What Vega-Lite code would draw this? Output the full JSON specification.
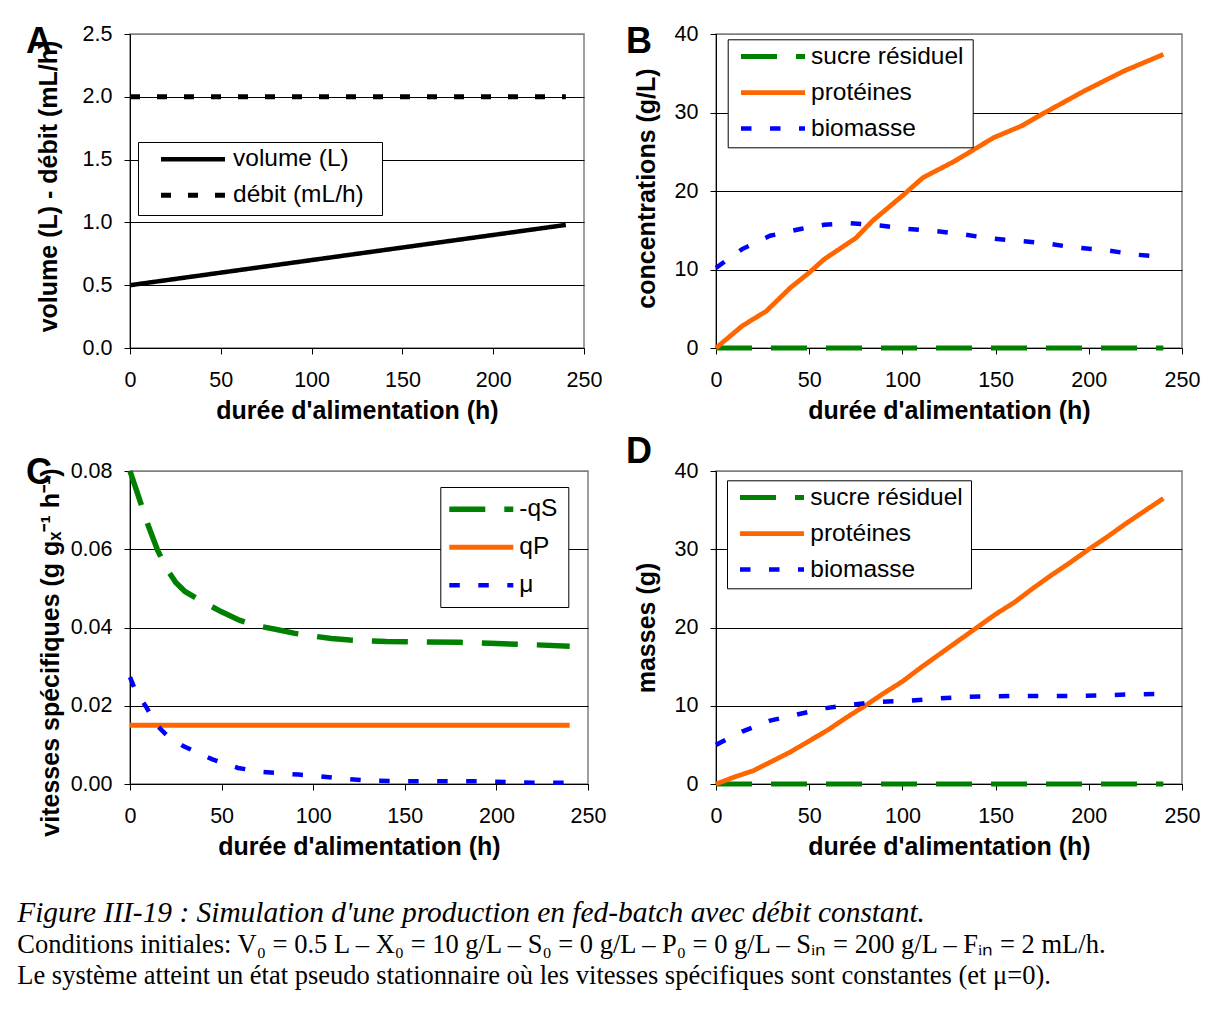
{
  "$schema": "https://vega.github.io/schema/vega-lite/v6.json",
  "background": "#ffffff",
  "padding": {"left": 17, "top": 22, "right": 5, "bottom": 5},
  "autosize": {"type": "pad"},
  "title": {
    "text": "Figure III-19 : Simulation d'une production en fed-batch avec débit constant.",
    "subtitle": ["Conditions initiales: V₀ = 0.5 L – X₀ = 10 g/L – S₀ = 0 g/L – P₀ = 0 g/L – Sᵢₙ = 200 g/L – Fᵢₙ = 2 mL/h.", "Le système atteint un état pseudo stationnaire où les vitesses spécifiques sont constantes (et μ=0)."],
    "orient": "bottom", "anchor": "start", "frame": "bounds", "offset": 39, "dx": -8,
    "font": "Liberation Serif", "fontSize": 29.4, "fontStyle": "italic", "fontWeight": "normal", "color": "#000000",
    "subtitleFont": "Liberation Serif", "subtitleFontSize": 26.5, "subtitleFontStyle": "normal", "subtitleFontWeight": "normal", "subtitleColor": "#000000", "subtitleLineHeight": 31, "subtitlePadding": 3.6
  },
  "config": {
    "font": "Liberation Sans",
    "view": {"stroke": "#808080", "strokeWidth": 1.5},
    "axis": {"labelFont": "Liberation Sans", "labelFontSize": 21.5, "labelColor": "#000000", "titleFont": "Liberation Sans", "titleFontSize": 25, "titleFontWeight": "bold", "titleColor": "#000000", "tickColor": "#000000", "tickSize": 6, "tickWidth": 1, "domainColor": "#000000", "domainWidth": 1, "grid": false, "labelOverlap": false, "labelFlush": false},
    "axisX": {"labelPadding": 15.7, "titlePadding": 7.5},
    "axisY": {"labelPadding": 12, "grid": true, "gridWidth": 1, "titleBaseline": "middle"},
    "legend": {"symbolSize": 1, "symbolStrokeWidth": 5, "labelFont": "Liberation Sans", "labelFontSize": 24.5, "labelColor": "#000000", "labelLimit": 400, "fillColor": "#ffffff", "strokeColor": "#000000", "orient": "none"}
  },
  "columns": 2,
  "bounds": "flush",
  "align": "each",
  "spacing": {"row": 123, "column": 128},
  "resolve": {"scale": {"x": "independent", "y": "independent", "color": "independent", "strokeDash": "independent", "strokeWidth": "independent"}},
  "concat": [
    {
      "width": 454, "height": 314,
      "title": {"text": "A", "anchor": "start", "frame": "group", "dx": -104, "offset": -38.3, "font": "Liberation Sans", "fontSize": 36, "fontWeight": "bold", "color": "#000000"},
      "data": {"values": [
        {"t": 0, "v": 0.5, "s": "volume (L)"}, {"t": 20, "v": 0.54, "s": "volume (L)"}, {"t": 40, "v": 0.58, "s": "volume (L)"}, {"t": 60, "v": 0.62, "s": "volume (L)"}, {"t": 80, "v": 0.66, "s": "volume (L)"}, {"t": 100, "v": 0.7, "s": "volume (L)"}, {"t": 120, "v": 0.74, "s": "volume (L)"}, {"t": 140, "v": 0.78, "s": "volume (L)"}, {"t": 160, "v": 0.82, "s": "volume (L)"}, {"t": 180, "v": 0.86, "s": "volume (L)"}, {"t": 200, "v": 0.9, "s": "volume (L)"}, {"t": 220, "v": 0.94, "s": "volume (L)"}, {"t": 240, "v": 0.98, "s": "volume (L)"},
        {"t": 0, "v": 2.0, "s": "débit (mL/h)"}, {"t": 240, "v": 2.0, "s": "débit (mL/h)"}
      ]},
      "mark": {"type": "line"},
      "encoding": {
        "x": {"field": "t", "type": "quantitative", "scale": {"domain": [0, 250]}, "axis": {"values": [0, 50, 100, 150, 200, 250], "title": "durée d'alimentation (h)"}},
        "y": {"field": "v", "type": "quantitative", "scale": {"domain": [0, 2.5]}, "axis": {"values": [0, 0.5, 1, 1.5, 2, 2.5], "format": ".1f", "title": "volume (L) - débit (mL/h)", "titleX": -81.5, "titleY": 152, "gridColor": {"condition": {"test": "datum.index == 1", "value": "#808080"}, "value": "#000000"}}},
        "color": {"field": "s", "type": "nominal", "scale": {"domain": ["volume (L)", "débit (mL/h)"], "range": ["#000000", "#000000"]}, "legend": {"title": null, "orient": "none", "legendX": 8, "legendY": 108, "padding": 5, "rowPadding": 9, "symbolOffset": 37.75, "labelOffset": 27.75, "symbolType": "M348,9M-64,0H64"}},
        "strokeDash": {"field": "s", "type": "nominal", "scale": {"domain": ["volume (L)", "débit (mL/h)"], "range": [[1, 0], [10, 17]]}, "legend": {"title": null, "orient": "none", "legendX": 8, "legendY": 108, "padding": 5, "rowPadding": 9, "symbolOffset": 37.75, "labelOffset": 27.75, "symbolType": "M348,9M-64,0H64"}},
        "strokeWidth": {"field": "s", "type": "nominal", "scale": {"domain": ["volume (L)", "débit (mL/h)"], "range": [4.5, 5]}, "legend": null}
      }
    },
    {
      "width": 466, "height": 314,
      "title": {"text": "B", "anchor": "start", "frame": "group", "dx": -90, "offset": -38.3, "font": "Liberation Sans", "fontSize": 36, "fontWeight": "bold", "color": "#000000"},
      "data": {"values": [
        {"t": 0, "v": 0, "s": "sucre résiduel"}, {"t": 240, "v": 0, "s": "sucre résiduel"},
        {"t": 0, "v": 0, "s": "protéines"}, {"t": 14, "v": 2.8, "s": "protéines"}, {"t": 27, "v": 4.7, "s": "protéines"}, {"t": 40, "v": 7.7, "s": "protéines"}, {"t": 50, "v": 9.6, "s": "protéines"}, {"t": 58, "v": 11.3, "s": "protéines"}, {"t": 75, "v": 14.0, "s": "protéines"}, {"t": 84, "v": 16.2, "s": "protéines"}, {"t": 101, "v": 19.6, "s": "protéines"}, {"t": 111, "v": 21.7, "s": "protéines"}, {"t": 128, "v": 23.8, "s": "protéines"}, {"t": 149, "v": 26.8, "s": "protéines"}, {"t": 164, "v": 28.3, "s": "protéines"}, {"t": 175, "v": 29.8, "s": "protéines"}, {"t": 198, "v": 32.8, "s": "protéines"}, {"t": 219, "v": 35.3, "s": "protéines"}, {"t": 240, "v": 37.4, "s": "protéines"},
        {"t": 0, "v": 10.2, "s": "biomasse"}, {"t": 14, "v": 12.6, "s": "biomasse"}, {"t": 29, "v": 14.3, "s": "biomasse"}, {"t": 46, "v": 15.2, "s": "biomasse"}, {"t": 58, "v": 15.7, "s": "biomasse"}, {"t": 72, "v": 15.9, "s": "biomasse"}, {"t": 88, "v": 15.6, "s": "biomasse"}, {"t": 101, "v": 15.2, "s": "biomasse"}, {"t": 118, "v": 14.9, "s": "biomasse"}, {"t": 129, "v": 14.6, "s": "biomasse"}, {"t": 146, "v": 14.0, "s": "biomasse"}, {"t": 159, "v": 13.7, "s": "biomasse"}, {"t": 175, "v": 13.4, "s": "biomasse"}, {"t": 192, "v": 12.8, "s": "biomasse"}, {"t": 208, "v": 12.5, "s": "biomasse"}, {"t": 225, "v": 11.9, "s": "biomasse"}, {"t": 240, "v": 11.6, "s": "biomasse"}
      ]},
      "mark": {"type": "line"},
      "encoding": {
        "x": {"field": "t", "type": "quantitative", "scale": {"domain": [0, 250]}, "axis": {"values": [0, 50, 100, 150, 200, 250], "title": "durée d'alimentation (h)"}},
        "y": {"field": "v", "type": "quantitative", "scale": {"domain": [0, 40]}, "axis": {"values": [0, 10, 20, 30, 40], "title": "concentrations (g/L)", "titleX": -70, "titleY": 154, "gridColor": {"condition": {"test": "datum.index == 1", "value": "#808080"}, "value": "#000000"}}},
        "color": {"field": "s", "type": "nominal", "scale": {"domain": ["sucre résiduel", "protéines", "biomasse"], "range": ["#008000", "#FF6600", "#0000FF"]}, "legend": {"title": null, "orient": "none", "legendX": 11.7, "legendY": 5.3, "padding": 5, "rowPadding": 8, "symbolOffset": 28.05, "labelOffset": 25.75, "symbolType": "M369.4,9M-64,0H64"}},
        "strokeDash": {"field": "s", "type": "nominal", "scale": {"domain": ["sucre résiduel", "protéines", "biomasse"], "range": [[36, 19], [1, 0], [10.5, 18.5]]}, "legend": {"title": null, "orient": "none", "legendX": 11.7, "legendY": 5.3, "padding": 5, "rowPadding": 8, "symbolOffset": 28.05, "labelOffset": 25.75, "symbolType": "M369.4,9M-64,0H64"}},
        "strokeWidth": {"field": "s", "type": "nominal", "scale": {"domain": ["sucre résiduel", "protéines", "biomasse"], "range": [5, 4.5, 6]}, "legend": null}
      }
    },
    {
      "width": 458, "height": 313,
      "title": {"text": "C", "anchor": "start", "frame": "group", "dx": -104, "offset": -31.8, "font": "Liberation Sans", "fontSize": 36, "fontWeight": "bold", "color": "#000000"},
      "data": {"values": [
        {"t": 0, "v": 0.080, "s": "-qS"}, {"t": 5, "v": 0.073, "s": "-qS"}, {"t": 10, "v": 0.066, "s": "-qS"}, {"t": 15, "v": 0.0598, "s": "-qS"}, {"t": 20, "v": 0.0550, "s": "-qS"}, {"t": 25, "v": 0.0515, "s": "-qS"}, {"t": 30, "v": 0.0492, "s": "-qS"}, {"t": 40, "v": 0.0465, "s": "-qS"}, {"t": 50, "v": 0.0440, "s": "-qS"}, {"t": 60, "v": 0.0418, "s": "-qS"}, {"t": 70, "v": 0.0404, "s": "-qS"}, {"t": 80, "v": 0.0395, "s": "-qS"}, {"t": 90, "v": 0.0385, "s": "-qS"}, {"t": 100, "v": 0.0378, "s": "-qS"}, {"t": 110, "v": 0.0372, "s": "-qS"}, {"t": 120, "v": 0.0368, "s": "-qS"}, {"t": 140, "v": 0.0364, "s": "-qS"}, {"t": 160, "v": 0.0363, "s": "-qS"}, {"t": 180, "v": 0.0362, "s": "-qS"}, {"t": 200, "v": 0.0359, "s": "-qS"}, {"t": 220, "v": 0.0356, "s": "-qS"}, {"t": 240, "v": 0.0352, "s": "-qS"},
        {"t": 0, "v": 0.015, "s": "qP"}, {"t": 240, "v": 0.015, "s": "qP"},
        {"t": 0, "v": 0.0273, "s": "μ"}, {"t": 3, "v": 0.0238, "s": "μ"}, {"t": 9, "v": 0.0196, "s": "μ"}, {"t": 14, "v": 0.0153, "s": "μ"}, {"t": 20, "v": 0.0125, "s": "μ"}, {"t": 29, "v": 0.0097, "s": "μ"}, {"t": 45, "v": 0.0063, "s": "μ"}, {"t": 59, "v": 0.0041, "s": "μ"}, {"t": 72, "v": 0.0031, "s": "μ"}, {"t": 92, "v": 0.0024, "s": "μ"}, {"t": 101, "v": 0.0021, "s": "μ"}, {"t": 118, "v": 0.0013, "s": "μ"}, {"t": 129, "v": 0.0009, "s": "μ"}, {"t": 147, "v": 0.0007, "s": "μ"}, {"t": 176, "v": 0.0007, "s": "μ"}, {"t": 192, "v": 0.0007, "s": "μ"}, {"t": 210, "v": 0.0004, "s": "μ"}, {"t": 227, "v": 0.0003, "s": "μ"}, {"t": 240, "v": 0.0003, "s": "μ"}
      ]},
      "mark": {"type": "line"},
      "encoding": {
        "x": {"field": "t", "type": "quantitative", "scale": {"domain": [0, 250]}, "axis": {"values": [0, 50, 100, 150, 200, 250], "title": "durée d'alimentation (h)"}},
        "y": {"field": "v", "type": "quantitative", "scale": {"domain": [0, 0.08]}, "axis": {"values": [0, 0.02, 0.04, 0.06, 0.08], "format": ".2f", "title": "vitesses spécifiques  (g gₓ⁻¹ h⁻¹)", "titleX": -80, "titleY": 181, "gridColor": {"condition": {"test": "datum.index == 1", "value": "#808080"}, "value": "#000000"}}},
        "color": {"field": "s", "type": "nominal", "scale": {"domain": ["-qS", "qP", "μ"], "range": ["#008000", "#FF6600", "#0000FF"]}, "legend": {"title": null, "orient": "none", "legendX": 310.3, "legendY": 16, "padding": 10, "rowPadding": 13, "symbolOffset": 18.75, "labelOffset": 25.75, "symbolType": "M-64,0H64"}},
        "strokeDash": {"field": "s", "type": "nominal", "scale": {"domain": ["-qS", "qP", "μ"], "range": [[36, 19], [1, 0], [10.5, 18.5]]}, "legend": {"title": null, "orient": "none", "legendX": 310.3, "legendY": 16, "padding": 10, "rowPadding": 13, "symbolOffset": 18.75, "labelOffset": 25.75, "symbolType": "M-64,0H64"}},
        "strokeWidth": {"field": "s", "type": "nominal", "scale": {"domain": ["-qS", "qP", "μ"], "range": [5.5, 4.5, 6]}, "legend": null}
      }
    },
    {
      "width": 466, "height": 313,
      "title": {"text": "D", "anchor": "start", "frame": "group", "dx": -90, "offset": -11.3, "font": "Liberation Sans", "fontSize": 36, "fontWeight": "bold", "color": "#000000"},
      "data": {"values": [
        {"t": 0, "v": 0, "s": "sucre résiduel"}, {"t": 240, "v": 0, "s": "sucre résiduel"},
        {"t": 0, "v": 0, "s": "protéines"}, {"t": 10, "v": 0.9, "s": "protéines"}, {"t": 20, "v": 1.7, "s": "protéines"}, {"t": 30, "v": 2.9, "s": "protéines"}, {"t": 40, "v": 4.1, "s": "protéines"}, {"t": 50, "v": 5.5, "s": "protéines"}, {"t": 60, "v": 6.9, "s": "protéines"}, {"t": 70, "v": 8.5, "s": "protéines"}, {"t": 80, "v": 10.0, "s": "protéines"}, {"t": 90, "v": 11.6, "s": "protéines"}, {"t": 100, "v": 13.1, "s": "protéines"}, {"t": 110, "v": 14.9, "s": "protéines"}, {"t": 120, "v": 16.6, "s": "protéines"}, {"t": 130, "v": 18.3, "s": "protéines"}, {"t": 140, "v": 20.0, "s": "protéines"}, {"t": 150, "v": 21.7, "s": "protéines"}, {"t": 160, "v": 23.2, "s": "protéines"}, {"t": 170, "v": 25.0, "s": "protéines"}, {"t": 180, "v": 26.7, "s": "protéines"}, {"t": 190, "v": 28.3, "s": "protéines"}, {"t": 200, "v": 30.0, "s": "protéines"}, {"t": 210, "v": 31.6, "s": "protéines"}, {"t": 220, "v": 33.3, "s": "protéines"}, {"t": 230, "v": 34.9, "s": "protéines"}, {"t": 240, "v": 36.5, "s": "protéines"},
        {"t": 0, "v": 5.0, "s": "biomasse"}, {"t": 14, "v": 6.7, "s": "biomasse"}, {"t": 29, "v": 8.1, "s": "biomasse"}, {"t": 43, "v": 8.85, "s": "biomasse"}, {"t": 59, "v": 9.7, "s": "biomasse"}, {"t": 72, "v": 10.1, "s": "biomasse"}, {"t": 86, "v": 10.5, "s": "biomasse"}, {"t": 101, "v": 10.6, "s": "biomasse"}, {"t": 115, "v": 10.85, "s": "biomasse"}, {"t": 130, "v": 11.1, "s": "biomasse"}, {"t": 144, "v": 11.2, "s": "biomasse"}, {"t": 159, "v": 11.25, "s": "biomasse"}, {"t": 173, "v": 11.25, "s": "biomasse"}, {"t": 189, "v": 11.25, "s": "biomasse"}, {"t": 206, "v": 11.3, "s": "biomasse"}, {"t": 222, "v": 11.45, "s": "biomasse"}, {"t": 240, "v": 11.5, "s": "biomasse"}
      ]},
      "mark": {"type": "line"},
      "encoding": {
        "x": {"field": "t", "type": "quantitative", "scale": {"domain": [0, 250]}, "axis": {"values": [0, 50, 100, 150, 200, 250], "title": "durée d'alimentation (h)"}},
        "y": {"field": "v", "type": "quantitative", "scale": {"domain": [0, 40]}, "axis": {"values": [0, 10, 20, 30, 40], "title": "masses (g)", "titleX": -70, "gridColor": {"condition": {"test": "datum.index == 1", "value": "#808080"}, "value": "#000000"}}},
        "color": {"field": "s", "type": "nominal", "scale": {"domain": ["sucre résiduel", "protéines", "biomasse"], "range": ["#008000", "#FF6600", "#0000FF"]}, "legend": {"title": null, "orient": "none", "legendX": 11, "legendY": 9.3, "padding": 5, "rowPadding": 8, "symbolOffset": 27.75, "labelOffset": 26.05, "symbolType": "M368,9M-64,0H64"}},
        "strokeDash": {"field": "s", "type": "nominal", "scale": {"domain": ["sucre résiduel", "protéines", "biomasse"], "range": [[36, 19], [1, 0], [10.5, 18.5]]}, "legend": {"title": null, "orient": "none", "legendX": 11, "legendY": 9.3, "padding": 5, "rowPadding": 8, "symbolOffset": 27.75, "labelOffset": 26.05, "symbolType": "M368,9M-64,0H64"}},
        "strokeWidth": {"field": "s", "type": "nominal", "scale": {"domain": ["sucre résiduel", "protéines", "biomasse"], "range": [5, 4.5, 6]}, "legend": null}
      }
    }
  ]
}
